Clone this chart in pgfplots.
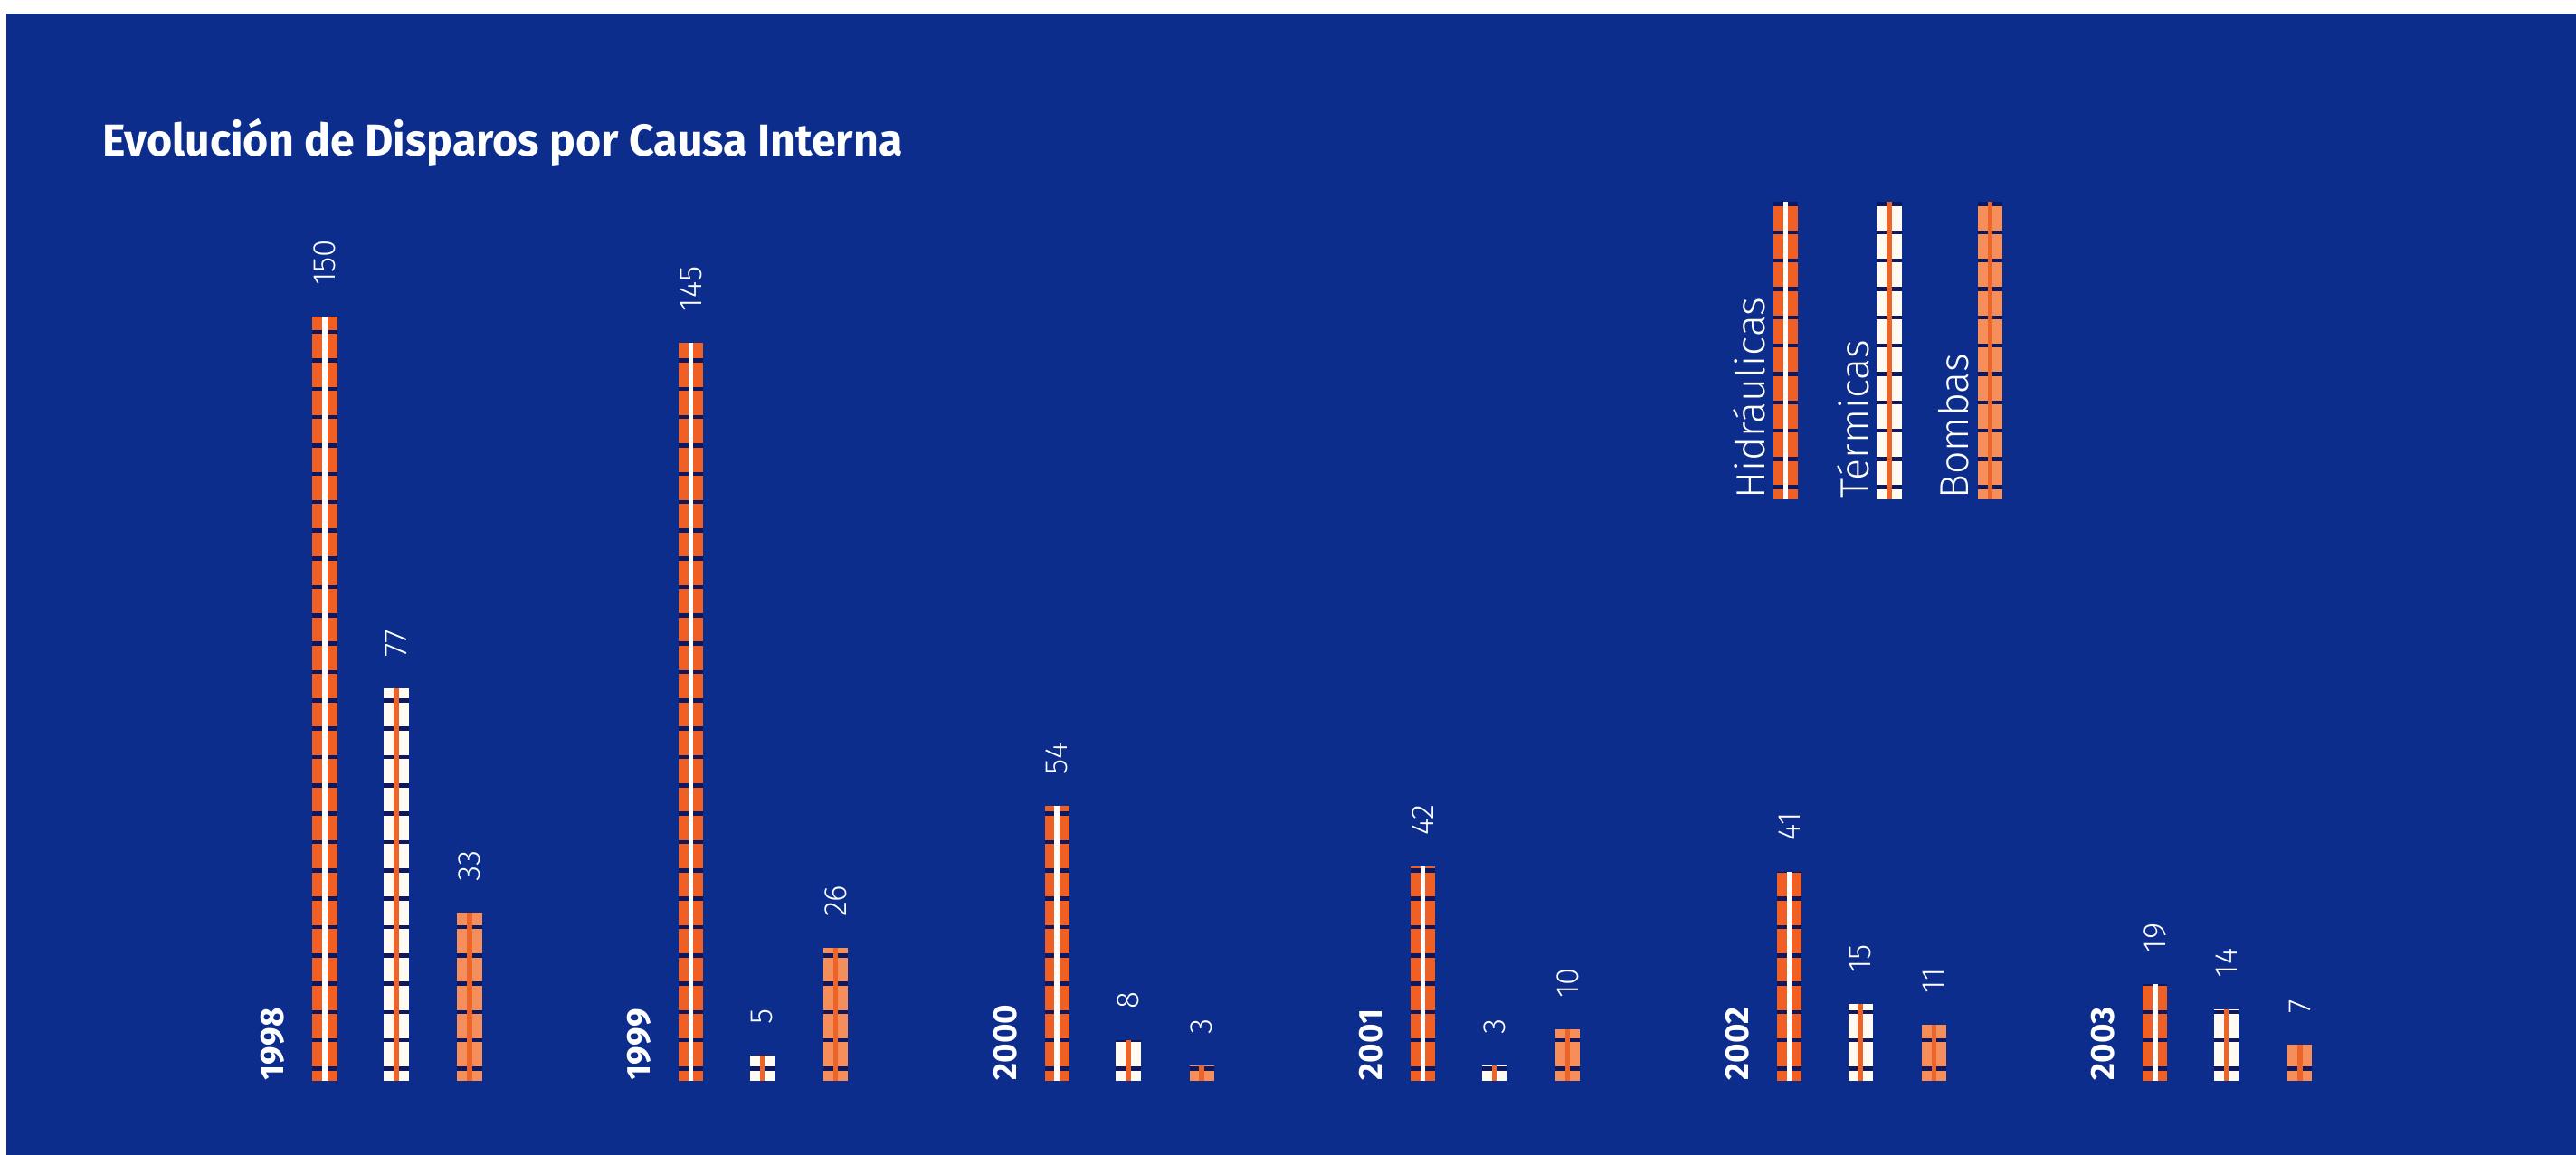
\documentclass[border=0pt]{standalone}
\usepackage{pgfplots}
\pgfplotsset{compat=1.18}
\usepackage{pgfplotstable}
\usepackage{graphicx}
\usepackage{fontspec}
\setmainfont{Fira Sans}
\newfontfamily\lightfont{Fira Sans Light}

\definecolor{bg}{RGB}{12,45,140}
\definecolor{gapc}{RGB}{12,24,96}
\definecolor{hyd}{RGB}{240,96,36}
\definecolor{term}{RGB}{255,250,242}
\definecolor{bomb}{RGB}{246,142,92}
\definecolor{core}{RGB}{236,100,40}

% Disparos por causa interna, por año y tipo de central
\pgfplotstableread{
year h t b
1998 150 77 33
1999 145 5 26
2000 54 8 3
2001 42 3 10
2002 41 15 11
2003 19 14 7
}\disparos

\pgfplotsset{
  barfill/.style={ycomb, mark=none, line width=3.0mm, line cap=butt},
  bargaps/.style={ycomb, mark=none, line width=3.0mm, line cap=butt, draw=gapc,
                  dash pattern=on 0.5mm off 2.95mm, dash phase=2.25mm},
  barcore/.style={ycomb, mark=none, line width=0.6mm, line cap=butt},
  vallabels/.style={nodes near coords,
     nodes near coords style={rotate=90, anchor=west, text=white,
       /pgf/number format/assume math mode=true,
       font=\lightfont\fontsize{11}{13}\selectfont, inner xsep=3.5mm, inner ysep=0pt}},
}
\tikzset{
  legfill/.style={line width=3.0mm},
  leggaps/.style={line width=3.0mm, gapc, dash pattern=on 0.5mm off 2.95mm, dash phase=2.25mm},
  legcore/.style={line width=0.6mm},
  legtext/.style={rotate=90, anchor=west, inner sep=0pt, text=white,
        font=\lightfont\fontsize{14}{16}\selectfont},
}

\begin{document}
\begin{tikzpicture}
\useasboundingbox (0,0) rectangle (313.6mm,140.6mm);
\fill[white] (-5mm,-5mm) rectangle (320mm,145mm);
\fill[bg] (0.8mm,-5mm) rectangle (320mm,139.0mm);
\begin{axis}[
  at={(0,0)}, anchor=south west,
  scale only axis, width=313.6mm, height=140.6mm,
  xmin=-1.0826, xmax=5.9551, ymin=-14.52, ymax=212.26,
  hide axis, clip=false,
]
% Hidráulicas
\addplot[barfill, draw=hyd] table[x expr=\coordindex-0.195, y=h] {\disparos};
\addplot[bargaps] table[x expr=\coordindex-0.195, y=h] {\disparos};
\addplot[barcore, draw=white, vallabels] table[x expr=\coordindex-0.195, y=h] {\disparos};
% Térmicas
\addplot[barfill, draw=term] table[x expr=\coordindex, y=t] {\disparos};
\addplot[bargaps] table[x expr=\coordindex, y=t] {\disparos};
\addplot[barcore, draw=core, vallabels] table[x expr=\coordindex, y=t] {\disparos};
% Bombas
\addplot[barfill, draw=bomb] table[x expr=\coordindex+0.2006, y=b] {\disparos};
\addplot[bargaps] table[x expr=\coordindex+0.2006, y=b] {\disparos};
\addplot[barcore, draw=core, vallabels] table[x expr=\coordindex+0.2006, y=b] {\disparos};
% Años
\addplot[draw=none, mark=none, nodes near coords, point meta=explicit symbolic,
  nodes near coords style={rotate=90, anchor=west, text=white, inner sep=0pt,
    font=\bfseries\fontsize{11.5}{13}\selectfont}]
  table[x expr=\coordindex-0.337, y expr=0, meta=year] {\disparos};

% Leyenda
\draw[legfill, hyd] (axis cs:3.796,114.2) -- (axis cs:3.796,172.6);
\draw[leggaps] (axis cs:3.796,114.2) -- (axis cs:3.796,172.6);
\draw[legcore, white] (axis cs:3.796,114.2) -- (axis cs:3.796,172.6);
\node[legtext] at ([xshift=-4.4mm]axis cs:3.796,114.2) {Hidráulicas};

\draw[legfill, term] (axis cs:4.079,114.2) -- (axis cs:4.079,172.6);
\draw[leggaps] (axis cs:4.079,114.2) -- (axis cs:4.079,172.6);
\draw[legcore, core] (axis cs:4.079,114.2) -- (axis cs:4.079,172.6);
\node[legtext] at ([xshift=-4.4mm]axis cs:4.079,114.2) {Térmicas};

\draw[legfill, bomb] (axis cs:4.354,114.2) -- (axis cs:4.354,172.6);
\draw[leggaps] (axis cs:4.354,114.2) -- (axis cs:4.354,172.6);
\draw[legcore, core] (axis cs:4.354,114.2) -- (axis cs:4.354,172.6);
\node[legtext] at ([xshift=-4.4mm]axis cs:4.354,114.2) {Bombas};
\end{axis}
\node[anchor=base west, inner sep=0pt, text=white, font=\bfseries\fontsize{15.5}{18}\selectfont]
  at (12.4mm,121.6mm) {\resizebox{97.4mm}{\height}{Evolución de Disparos por Causa Interna}};
\end{tikzpicture}
\end{document}
